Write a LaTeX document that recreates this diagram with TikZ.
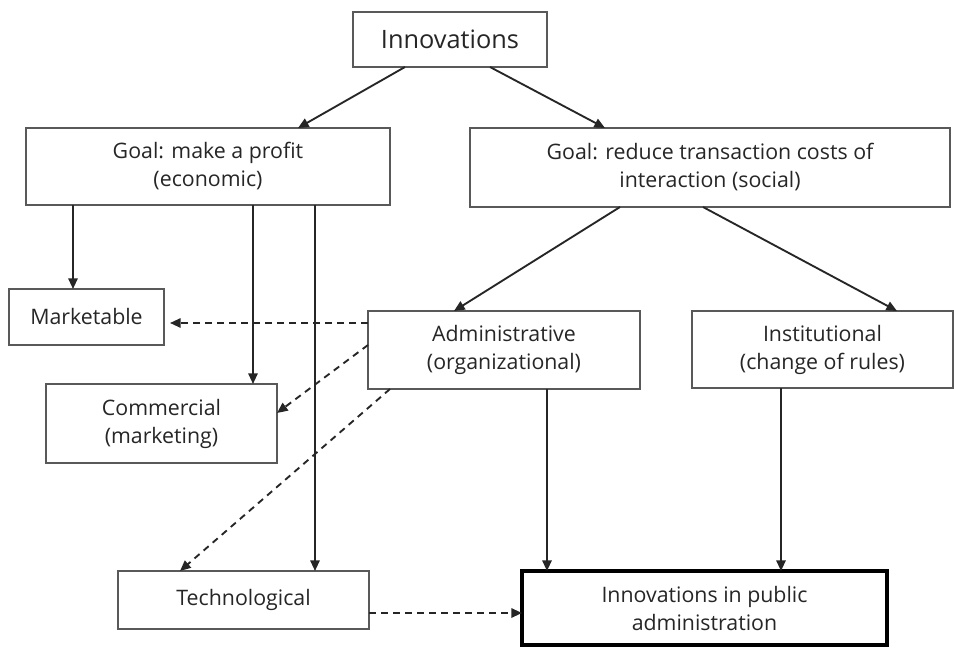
\documentclass[tikz,border=0pt]{standalone}
\usepackage{fontspec}
\setmainfont{Open Sans}
\usetikzlibrary{arrows.meta}
\begin{document}
\begin{tikzpicture}[x=0.75pt,y=-0.75pt,
  box/.style={draw=black!65, line width=1pt, fill=white, align=center, inner sep=2pt, outer sep=0pt, text=black!85, font=\fontsize{16}{21}\selectfont},
  arr/.style={draw=black!85, line width=1.4pt, -{Triangle[length=8pt,width=7pt]}},
  darr/.style={arr, dash pattern=on 5pt off 4pt},
]
\fill[white] (0,0) rectangle (954,649);
\useasboundingbox (0,0) rectangle (954,649);

\node[box, minimum width=145.5pt, minimum height=41.25pt, font=\fontsize{19}{23}\selectfont] (inno) at (450,39.5) {Innovations};
\node[box, minimum width=273pt, minimum height=57.75pt] (goalp) at (208,166.5) {Goal: make a profit\\(economic)};
\node[box, minimum width=360pt, minimum height=59.25pt] (goalr) at (710,167.5) {Goal: reduce transaction costs of\\interaction (social)};
\node[box, minimum width=116.25pt, minimum height=42pt] (mark) at (86.5,317) {Marketable};
\node[box, minimum width=204pt, minimum height=58.5pt] (admin) at (504,350) {Administrative\\(organizational)};
\node[box, minimum width=195.75pt, minimum height=57.75pt] (inst) at (822.5,349.5) {Institutional\\(change of rules)};
\node[box, minimum width=173.25pt, minimum height=59.25pt] (comm) at (161.5,423.5) {Commercial\\(marketing)};
\node[box, minimum width=188.25pt, minimum height=43.5pt] (tech) at (243.5,600) {Technological};
\node[box, draw=black, line width=2.5pt, minimum width=273.75pt, minimum height=55.5pt] (pub) at (704.5,608) {Innovations in public\\administration};

% solid arrows
\draw[arr] (405,0 |- inno.south) -- (298,0 |- goalp.north);
\draw[arr] (490,0 |- inno.south) -- (605,0 |- goalr.north);
\draw[arr] (73,0 |- goalp.south) -- (73,0 |- mark.north);
\draw[arr] (253,0 |- goalp.south) -- (253,0 |- comm.north);
\draw[arr] (315,0 |- goalp.south) -- (315,0 |- tech.north);
\draw[arr] (620,0 |- goalr.south) -- (454,0 |- admin.north);
\draw[arr] (703,0 |- goalr.south) -- (897,0 |- inst.north);
\draw[arr] (547,0 |- admin.south) -- (547,0 |- pub.north);
\draw[arr] (781,0 |- inst.south) -- (781,0 |- pub.north);

% dashed arrows
\draw[darr] (admin.west |- 0,323) -- ([xshift=4.5pt]mark.east |- 0,323);
\draw[darr] (admin.west |- 0,345) -- (comm.east |- 0,413);
\draw[darr] (390,0 |- admin.south) -- (180,0 |- tech.north);
\draw[darr] (tech.east |- 0,613) -- (pub.west |- 0,613);
\end{tikzpicture}
\end{document}
